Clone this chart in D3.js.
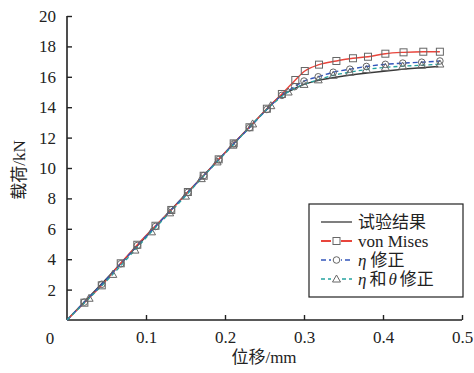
<!DOCTYPE html>
<html><head><meta charset="utf-8">
<script src="https://cdn.jsdelivr.net/npm/d3@7/dist/d3.min.js"></script>
</head><body style="margin:0">
<script>
// Data
const xTicks = [0.1, 0.2, 0.3, 0.4, 0.5];
const yTicks = [2, 4, 6, 8, 10, 12, 14, 16, 18, 20];
const seriesNames = ["试验结果", "von Mises", "η 修正", "η 和 θ 修正"];

const expX = [0, 0.05, 0.1, 0.15, 0.2, 0.25, 0.27, 0.285, 0.3, 0.32, 0.35, 0.38, 0.41, 0.44, 0.47];
const expY = [0, 2.72, 5.5, 8.25, 11.0, 13.72, 14.72, 15.15, 15.5, 15.78, 16.05, 16.25, 16.42, 16.56, 16.68];

const vmX = [0, 0.022, 0.044, 0.068, 0.089, 0.112, 0.132, 0.153, 0.173, 0.192, 0.211, 0.231, 0.253, 0.272, 0.289, 0.301, 0.319, 0.341, 0.362, 0.381, 0.403, 0.426, 0.451, 0.472];
const vmY = [0, 1.14, 2.28, 3.73, 4.95, 6.2, 7.24, 8.42, 9.49, 10.57, 11.62, 12.68, 13.9, 14.87, 15.79, 16.38, 16.8, 17.04, 17.22, 17.32, 17.52, 17.61, 17.65, 17.65];

const etaX = [0, 0.022, 0.044, 0.068, 0.089, 0.112, 0.132, 0.153, 0.173, 0.192, 0.211, 0.231, 0.253, 0.272, 0.288, 0.300, 0.318, 0.337, 0.358, 0.379, 0.403, 0.425, 0.449, 0.472];
const etaY = [0, 1.18, 2.35, 3.7, 4.9, 6.15, 7.25, 8.4, 9.5, 10.55, 11.6, 12.65, 13.85, 14.78, 15.35, 15.72, 16.0, 16.3, 16.5, 16.68, 16.82, 16.9, 16.96, 17.04];

const etaThX = [0, 0.028, 0.058, 0.086, 0.107, 0.13, 0.15, 0.17, 0.19, 0.21, 0.235, 0.258, 0.28, 0.300, 0.318, 0.337, 0.358, 0.379, 0.403, 0.425, 0.449, 0.472];
const etaThY = [0, 1.43, 3.0, 4.6, 5.8, 7.05, 8.15, 9.3, 10.4, 11.5, 12.9, 14.1, 15.0, 15.5, 15.8, 16.1, 16.3, 16.48, 16.62, 16.7, 16.76, 16.84];

const W = 474, H = 373;
const LAT = '"Times New Roman"';
const CJK = '"Noto Sans CJK SC"';
const svg = d3.select("body").append("svg").attr("width", W).attr("height", H)
  .style("font-family", LAT);
const x = d3.scaleLinear().domain([0, 0.5]).range([67, 462]);
const y = d3.scaleLinear().domain([0, 20]).range([320, 16]);

// axes
const gx = svg.append("g").attr("transform", "translate(0,320)")
  .call(d3.axisBottom(x).tickValues(xTicks).tickSize(-5).tickPadding(11).tickFormat(d3.format(".1f")));
const gy = svg.append("g").attr("transform", "translate(67,0)")
  .call(d3.axisLeft(y).tickValues(yTicks).tickSize(-5).tickPadding(11).tickFormat(d3.format("d")));
[gx, gy].forEach(g => {
  g.attr("font-family", LAT).attr("font-size", 17);
  g.select(".domain").attr("stroke", "#222").attr("stroke-width", 1.6);
  g.selectAll(".tick line").attr("stroke", "#222").attr("stroke-width", 1.4);
  g.selectAll(".tick text").attr("font-family", LAT).style("font-family", LAT)
    .style("font-size", "17px").attr("fill", "#222");
});
gx.select(".domain").attr("d", "M67,0H462");
gy.select(".domain").attr("d", "M0,320V16");
svg.append("text").attr("x", 50).attr("y", 344).attr("text-anchor", "middle")
  .attr("font-family", LAT).style("font-family", LAT).style("font-size", "17px").attr("fill", "#222").text("0");

function mixed(t, parts) {
  parts.forEach(p => {
    const s = t.append("tspan").attr("font-family", p.cjk ? CJK : LAT).style("font-family", p.cjk ? CJK : LAT).text(p.s);
    if (p.it) s.style("font-style", "italic");
    if (p.dx) s.attr("dx", p.dx);
  });
}
const yt = svg.append("text").attr("transform", "translate(25,170) rotate(-90)").attr("text-anchor", "middle")
  .style("font-size", "17px").attr("fill", "#222");
mixed(yt, [{s: "载荷", cjk: true}, {s: "/kN"}]);
const xt = svg.append("text").attr("x", 264).attr("y", 363).attr("text-anchor", "middle")
  .style("font-size", "17px").attr("fill", "#222");
mixed(xt, [{s: "位移", cjk: true}, {s: "/mm"}]);

const line = d3.line().x(d => x(d[0])).y(d => y(d[1])).curve(d3.curveMonotoneX);
const zip = (a, b) => a.map((v, i) => [v, b[i]]);

const mkColor = "#666";
function drawMarker(g, type, cx, cy) {
  if (type === "square") g.append("rect").attr("x", cx - 3.5).attr("y", cy - 3.5).attr("width", 7).attr("height", 7)
    .attr("fill", "none").attr("stroke", mkColor).attr("stroke-width", 1);
  else if (type === "circle") g.append("circle").attr("cx", cx).attr("cy", cy).attr("r", 3.3)
    .attr("fill", "none").attr("stroke", mkColor).attr("stroke-width", 1);
  else if (type === "triangle") g.append("path").attr("d", `M${cx},${cy - 4}L${cx + 4},${cy + 3}L${cx - 4},${cy + 3}Z`)
    .attr("fill", "none").attr("stroke", mkColor).attr("stroke-width", 1);
}

const series = [
  {xs: expX, ys: expY, color: "#3a3a3a", dash: null, w: 1.5, marker: null},
  {xs: vmX, ys: vmY, color: "#e8453c", dash: null, w: 1.4, marker: "square"},
  {xs: etaX, ys: etaY, color: "#3355bb", dash: "5,3", w: 1.4, marker: "circle"},
  {xs: etaThX, ys: etaThY, color: "#26a3a0", dash: "4,3", w: 1.3, marker: "triangle"}
];
const gl = svg.append("g");
series.forEach(s => {
  gl.append("path").datum(zip(s.xs, s.ys)).attr("d", line).attr("fill", "none")
    .attr("stroke", s.color).attr("stroke-width", s.w).attr("stroke-dasharray", s.dash);
});
series.forEach(s => {
  if (!s.marker) return;
  const g = svg.append("g");
  zip(s.xs, s.ys).forEach(d => { if (d[0] > 0) drawMarker(g, s.marker, x(d[0]), y(d[1])); });
});

// legend
const lg = svg.append("g");
lg.append("rect").attr("x", 309).attr("y", 204).attr("width", 154).attr("height", 93)
  .attr("fill", "#fff").attr("stroke", "#222").attr("stroke-width", 1.2);
const rowsY = [222, 241, 260, 279];
const legendParts = [
  [{s: seriesNames[0], cjk: true}],
  [{s: seriesNames[1]}],
  [{s: "η", it: true}, {s: "修正", cjk: true, dx: 4}],
  [{s: "η", it: true}, {s: "和", cjk: true, dx: 3}, {s: "θ", it: true, dx: 2}, {s: "修正", cjk: true, dx: 3}]
];
series.forEach((s, i) => {
  const yy = rowsY[i];
  lg.append("line").attr("x1", 321).attr("x2", 352).attr("y1", yy).attr("y2", yy)
    .attr("stroke", s.color).attr("stroke-width", i === 1 ? 2 : 1.3).attr("stroke-dasharray", s.dash);
  if (s.marker) {
    lg.append("rect").attr("x", 331).attr("y", yy - 5).attr("width", 10).attr("height", 10).attr("fill", "#fff");
    drawMarker(lg, s.marker, 336.5, yy);
  }
  const t = lg.append("text").attr("x", 358).attr("y", yy + 5.5)
    .style("font-size", "17px").attr("fill", "#222");
  mixed(t, legendParts[i]);
});
</script>
</body></html>
